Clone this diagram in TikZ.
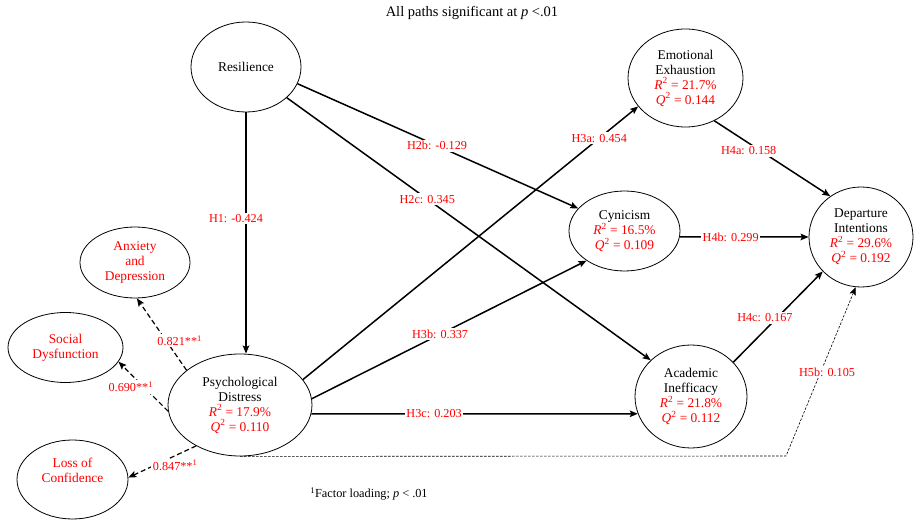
\documentclass[tikz,border=0pt]{standalone}
\usepackage{fontspec}
\setmainfont{Liberation Serif}
\usetikzlibrary{shapes.geometric,arrows.meta,calc}
\begin{document}
\begin{tikzpicture}[x=1pt,y=-1pt,
  ell/.style={ellipse, draw, line width=0.8pt, inner sep=0pt, align=center,
    font=\fontsize{13.4}{15}\selectfont},
  redtxt/.style={text=red},
  arr/.style={-{Stealth[length=8pt,width=6.5pt,inset=1.5pt]}, line width=1.5pt},
  load/.style={-{Stealth[length=8pt,width=6.5pt,inset=1.5pt]}, line width=1.2pt,
    dash pattern=on 5pt off 3pt},
  fine/.style={-{Stealth[length=8pt,width=6.5pt,inset=1.5pt]}, line width=0.6pt,
    dash pattern=on 2.5pt off 1.5pt},
  lab/.style={fill=white, text=red, inner sep=1.5pt,
    font=\fontsize{12.2}{14}\selectfont}
]
\useasboundingbox (0,0) rectangle (914,521);

% title and footnote
\node[font=\fontsize{14.5}{16}\selectfont] (title) at (472,13)
  {All paths significant at \textit{p} <.01};
\node[font=\fontsize{12.3}{14}\selectfont] (foot) at (369,494)
  {\textsuperscript{1}Factor loading; \textit{p} < .01};

% main constructs
\node[ell, minimum width=110pt, minimum height=90pt] (res) at (246,67) {Resilience};
\node[ell, minimum width=115pt, minimum height=98pt] (ee) at (685.5,78)
  {Emotional\\Exhaustion\\{\color{red}\textit{R}\textsuperscript{2} = 21.7\%}\\{\color{red}\textit{Q}\textsuperscript{2} = 0.144}};
\node[ell, minimum width=111pt, minimum height=80pt] (cyn) at (624.5,231)
  {Cynicism\\{\color{red}\textit{R}\textsuperscript{2} = 16.5\%}\\{\color{red}\textit{Q}\textsuperscript{2} = 0.109}};
\node[ell, minimum width=104pt, minimum height=100pt] (di) at (861,237)
  {Departure\\Intentions\\{\color{red}\textit{R}\textsuperscript{2} = 29.6\%}\\{\color{red}\textit{Q}\textsuperscript{2} = 0.192}};
\node[ell, minimum width=112pt, minimum height=103pt] (ai) at (691,396.5)
  {Academic\\Inefficacy\\{\color{red}\textit{R}\textsuperscript{2} = 21.8\%}\\{\color{red}\textit{Q}\textsuperscript{2} = 0.112}};
\node[ell, minimum width=144pt, minimum height=102pt] (pd) at (240,405)
  {Psychological\\Distress\\{\color{red}\textit{R}\textsuperscript{2} = 17.9\%}\\{\color{red}\textit{Q}\textsuperscript{2} = 0.110}};

% indicators
\node[ell, redtxt, minimum width=110pt, minimum height=71pt] (anx) at (135,262.5)
  {Anxiety\\and\\Depression};
\node[ell, redtxt, minimum width=115pt, minimum height=70pt] (soc) at (65.5,347.5)
  {Social\\Dysfunction};
\node[ell, minimum width=111pt, minimum height=79pt] (loss) at (72.5,479.5) {};
\node[redtxt, align=center, font=\fontsize{13.4}{15}\selectfont] (losstxt)
  at ($(loss.center)+(0,-9.5)$) {Loss of\\Confidence};

% structural paths
\draw[arr] (res.south) -- (res.south |- pd.north)
  node[lab, pos=0.44, xshift=-10pt] {H1: -0.424};
\draw[arr] (res.-18) -- (cyn.154)
  node[lab, pos=0.497] {H2b: -0.129};
\draw[arr] (res.-37) -- (ai.138)
  node[lab, pos=0.386] {H2c: 0.345};
\draw[arr] (pd.22) -- (ee.211)
  node[lab, pos=0.884] {H3a: 0.454};
\draw[arr] (pd.5) -- (cyn.218)
  node[lab, pos=0.467] {H3b: 0.337};
\draw[arr] (pd.-7) -- (ai.198)
  node[lab, pos=0.376] {H3c: 0.203};
\draw[arr] (ee.-56) -- (di.127)
  node[lab, pos=0.40, xshift=-12pt] {H4a: 0.158};
\draw[arr] (cyn.-6) -- (di.180)
  node[lab, pos=0.395] {H4b: 0.299};
\draw[arr] (ai.39) -- (di.222)
  node[lab, pos=0.487, xshift=-12pt] {H4c: 0.167};

% indirect path
\coordinate (h5) at (786,456);
\draw[fine] (pd.south) -- (h5) -- (di.-96)
  node[lab, pos=0.496, xshift=6.5pt] {H5b: 0.105};

% factor loadings
\draw[load] (pd.147) -- (anx.-87)
  node[lab, pos=0.41, xshift=13.5pt] {0.821**\textsuperscript{1}};
\draw[load] (pd.185) -- (soc.-15)
  node[lab, pos=0.49, xshift=-13pt] {0.690**\textsuperscript{1}};
\draw[load] (pd.223) -- (loss.2)
  node[lab, pos=0.31, yshift=-9.5pt] {0.847**\textsuperscript{1}};
\end{tikzpicture}
\end{document}
